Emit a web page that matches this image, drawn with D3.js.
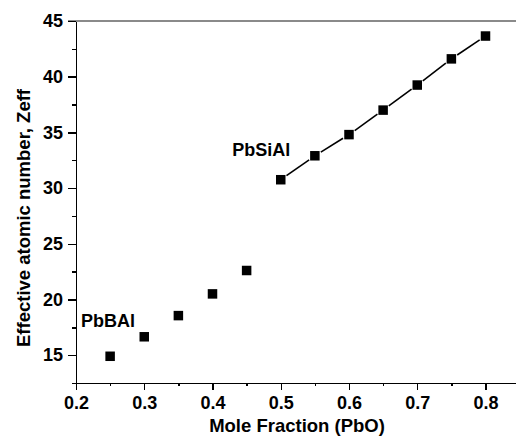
<!DOCTYPE html>
<html>
<head>
<meta charset="utf-8">
<script src="https://cdn.jsdelivr.net/npm/d3@7"></script>
<style>
  html, body { margin: 0; padding: 0; background: #fff; }
  svg { display: block; font-family: "Liberation Sans", Arial, sans-serif; }
  .axis line, .axis path { shape-rendering: crispEdges; }
</style>
</head>
<body>
<svg width="516" height="437"></svg>
<script>
'use strict';

// data
const PBBAL_X = [0.25, 0.30, 0.35, 0.40, 0.45];
const PBBAL_Y = [14.9, 16.65, 18.55, 20.5, 22.6];
const PBSIAL_X = [0.50, 0.55, 0.60, 0.65, 0.70, 0.75, 0.80];
const PBSIAL_Y = [30.75, 32.9, 34.8, 37.0, 39.25, 41.6, 43.65];
const X_TICKS = [0.2, 0.3, 0.4, 0.5, 0.6, 0.7, 0.8];
const Y_TICKS = [15, 20, 25, 30, 35, 40, 45];
const LABELS = [
    { text: 'PbBAl', x: 0.2075, y: 17.55 },
    { text: 'PbSiAl', x: 0.429, y: 32.9 },
];

const svg = d3.select('svg');
const LEFT = 76, TOP = 21, BOTTOM = 383;

const xScale = d3.scaleLinear().domain([0.2, 0.85]).range([LEFT, LEFT + 6.5 * 68.25]);
const yScale = d3.scaleLinear().domain([12.5, 45]).range([BOTTOM, TOP]);

// top border (grey)
svg.append('line')
    .attr('class', 'axis')
    .attr('x1', 68).attr('x2', 516)
    .attr('y1', TOP).attr('y2', TOP)
    .attr('stroke', '#8a8a8a').attr('stroke-width', 2)
    .style('shape-rendering', 'crispEdges');

// minor ticks
const xMinor = X_TICKS.map((d) => d + 0.05);
const yMinor = Y_TICKS.slice(0, -1).map((d) => d + 2.5).concat([12.5]);

const axisStyle = (g) => {
    g.attr('class', 'axis');
    g.select('.domain').attr('stroke', '#000').attr('stroke-width', 1.4);
    g.selectAll('.tick line').attr('stroke', '#000').attr('stroke-width', 1.4);
    g.selectAll('.tick text')
        .attr('fill', '#000')
        .style('font-size', '18px')
        .style('font-weight', 'bold');
};

// x axis
svg.append('g')
    .attr('class', 'axis')
    .attr('transform', `translate(0,${BOTTOM})`)
    .call(d3.axisBottom(xScale).tickValues(xMinor).tickSize(3).tickFormat(''))
    .call((g) => g.select('.domain').remove())
    .selectAll('line').attr('stroke', '#000').attr('stroke-width', 1.4);

svg.append('g')
    .attr('transform', `translate(0,${BOTTOM})`)
    .call(d3.axisBottom(xScale).tickValues(X_TICKS).tickSize(7).tickSizeOuter(0).tickPadding(6).tickFormat(d3.format('.1f')))
    .call(axisStyle);

// y axis
svg.append('g')
    .attr('class', 'axis')
    .attr('transform', `translate(${LEFT},0)`)
    .call(d3.axisLeft(yScale).tickValues(yMinor).tickSize(4).tickFormat(''))
    .call((g) => g.select('.domain').remove())
    .selectAll('line').attr('stroke', '#000').attr('stroke-width', 1.4);

svg.append('g')
    .attr('transform', `translate(${LEFT},0)`)
    .call(d3.axisLeft(yScale).tickValues(Y_TICKS).tickSize(8).tickSizeOuter(0).tickPadding(5))
    .call(axisStyle);

// connecting line for PbSiAl, with gaps around markers
const pts = PBSIAL_X.map((x, i) => [xScale(x), yScale(PBSIAL_Y[i])]);
const GAP = 7;
const segs = d3.pairs(pts).map(([a, b]) => {
    const dx = b[0] - a[0], dy = b[1] - a[1];
    const len = Math.hypot(dx, dy);
    const ux = dx / len, uy = dy / len;
    return [[a[0] + ux * GAP, a[1] + uy * GAP], [b[0] - ux * GAP, b[1] - uy * GAP]];
});
svg.append('g').selectAll('path')
    .data(segs)
    .join('path')
    .attr('d', d3.line())
    .attr('stroke', '#000').attr('stroke-width', 1.6).attr('fill', 'none');

// markers
const S = 9.5;
const drawSquares = (xs, ys) => {
    svg.append('g').selectAll('rect')
        .data(xs.map((x, i) => [x, ys[i]]))
        .join('rect')
        .attr('x', (d) => xScale(d[0]) - S / 2)
        .attr('y', (d) => yScale(d[1]) - S / 2)
        .attr('width', S).attr('height', S)
        .attr('fill', '#000');
};
drawSquares(PBBAL_X, PBBAL_Y);
drawSquares(PBSIAL_X, PBSIAL_Y);

// labels
svg.append('g').selectAll('text')
    .data(LABELS)
    .join('text')
    .attr('x', (d) => xScale(d.x))
    .attr('y', (d) => yScale(d.y))
    .text((d) => d.text)
    .style('font-size', '18px')
    .style('font-weight', 'bold');

// axis titles
svg.append('text')
    .attr('x', 297).attr('y', 432)
    .attr('text-anchor', 'middle')
    .style('font-size', '18.5px').style('font-weight', 'bold')
    .text('Mole Fraction (PbO)');

svg.append('text')
    .attr('transform', 'translate(30,218) rotate(-90)')
    .attr('text-anchor', 'middle')
    .style('font-size', '18.5px').style('font-weight', 'bold')
    .text('Effective atomic number, Zeff');
</script>
</body>
</html>
